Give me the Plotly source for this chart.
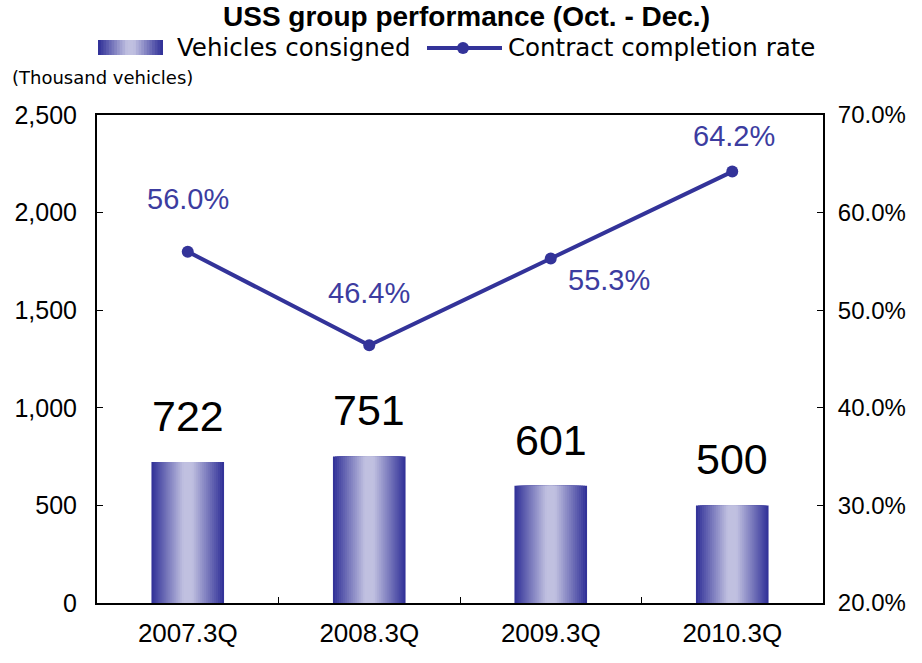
import plotly.graph_objects as go

categories = ["2007.3Q", "2008.3Q", "2009.3Q", "2010.3Q"]
vehicles = [722, 751, 601, 500]
rates = [56.0, 46.4, 55.3, 64.2]
rate_labels = ["56.0%", "46.4%", "55.3%", "64.2%"]
left_ticks = [0, 500, 1000, 1500, 2000, 2500]
right_ticks = [20, 30, 40, 50, 60, 70]
right_tick_labels = ["20.0%", "30.0%", "40.0%", "50.0%", "60.0%", "70.0%"]

DARK = (51, 51, 153)
LIGHT = (192, 192, 224)
LINE = "#333399"
FONT = "Liberation Sans, Arial, sans-serif"
WIDE = "DejaVu Sans, Verdana, sans-serif"

def mix(t):
    t = min(1.0, t / 0.85)
    return "rgb(%d,%d,%d)" % tuple(round(d + (l - d) * t) for d, l in zip(DARK, LIGHT))

fig = go.Figure()
N = 18
BW = 0.4
for k in range(N):
    fig.add_trace(go.Bar(
        x=categories, y=vehicles, width=BW * (1 - k / N),
        marker=dict(color=mix(k / N), line=dict(width=0)),
        showlegend=False, hoverinfo="skip" if k else None, yaxis="y"))

fig.add_trace(go.Scatter(
    x=categories, y=rates, yaxis="y2", mode="lines+markers",
    line=dict(color=LINE, width=4), marker=dict(color=LINE, size=12),
    showlegend=False))

# bar value labels
for c, v in zip(categories, vehicles):
    fig.add_annotation(x=c, y=v, yref="y", text=str(v), showarrow=False,
                       yanchor="bottom", yshift=20,
                       font=dict(size=43, color="black", family=FONT))

# rate labels with offsets as in original
offsets = [(0, -53), (0, -52), (58, 22), (2, -36)]
for c, r, t, (dx, dy) in zip(categories, rates, rate_labels, offsets):
    fig.add_annotation(x=c, y=r, yref="y2", text=t, showarrow=False,
                       xshift=dx, yshift=-dy,
                       font=dict(size=29, color="#3c3ca0", family=FONT))

PL, PR, PT, PB = 97, 823, 115, 603
PW, PH = PR - PL, PB - PT
def px(x):
    return (x - PL) / PW
def py(y):
    return (PB - y) / PH

# title
fig.add_annotation(xref="paper", yref="paper", x=px(466), y=py(16), xanchor="center", yanchor="middle",
                   text="<b>USS group performance (Oct. - Dec.)</b>",
                   showarrow=False, font=dict(size=28, family=FONT, color="black"))
# manual legend: gradient swatch
x0, x1, y0, y1 = 98, 163, 40, 55
M = 12
for k in range(M):
    half = (x1 - x0) / 2 * (1 - k / M)
    cx = (x0 + x1) / 2
    fig.add_shape(type="rect", xref="paper", yref="paper",
                  x0=px(cx - half), x1=px(cx + half), y0=py(y1), y1=py(y0),
                  fillcolor=mix(k / M), line=dict(width=0), layer="above")
fig.add_annotation(xref="paper", yref="paper", x=px(175), y=py(48), xanchor="left", yanchor="middle",
                   text="Vehicles consigned",
                   showarrow=False, font=dict(size=24.5, family=WIDE, color="black"))
fig.add_shape(type="line", xref="paper", yref="paper", x0=px(427), x1=px(502), y0=py(48), y1=py(48),
              line=dict(color=LINE, width=4))
fig.add_shape(type="circle", xref="paper", yref="paper", x0=px(457), x1=px(469), y0=py(54), y1=py(42),
              fillcolor=LINE, line=dict(width=0))
fig.add_annotation(xref="paper", yref="paper", x=px(506), y=py(48), xanchor="left", yanchor="middle",
                   text="Contract completion rate",
                   showarrow=False, font=dict(size=24.5, family=WIDE, color="black"))
fig.add_annotation(xref="paper", yref="paper", x=px(10), y=py(77), xanchor="left", yanchor="middle",
                   text="(Thousand vehicles)",
                   showarrow=False, font=dict(size=18, family=WIDE, color="black"))

fig.update_layout(
    width=922, height=663, barmode="overlay",
    margin=dict(l=PL, r=922 - PR, t=PT, b=663 - PB),
    paper_bgcolor="white", plot_bgcolor="white",
    font=dict(family=FONT, color="black"),
    xaxis=dict(showline=True, linecolor="black", linewidth=2, mirror=True,
               ticks="inside", tickson="boundaries", ticklen=6, tickcolor="black",
               tickfont=dict(size=26), showgrid=False, ticklabelstandoff=6),
    yaxis=dict(range=[0, 2500], tickvals=left_ticks, tickformat=",d",
               showline=True, linecolor="black", linewidth=2, ticks="inside", ticklen=6,
               tickcolor="black", tickfont=dict(size=25), showgrid=False, zeroline=False,
               ticklabelstandoff=13),
    yaxis2=dict(range=[20, 70], tickvals=right_ticks, ticktext=right_tick_labels,
                overlaying="y", side="right", showline=True, linecolor="black", linewidth=2,
                ticks="inside", ticklen=6, tickcolor="black", tickfont=dict(size=24),
                showgrid=False, zeroline=False, ticklabelstandoff=8),
)
fig.write_html("out.html", config={"displayModeBar": False},
               post_script="document.body.style.margin='0px';")
